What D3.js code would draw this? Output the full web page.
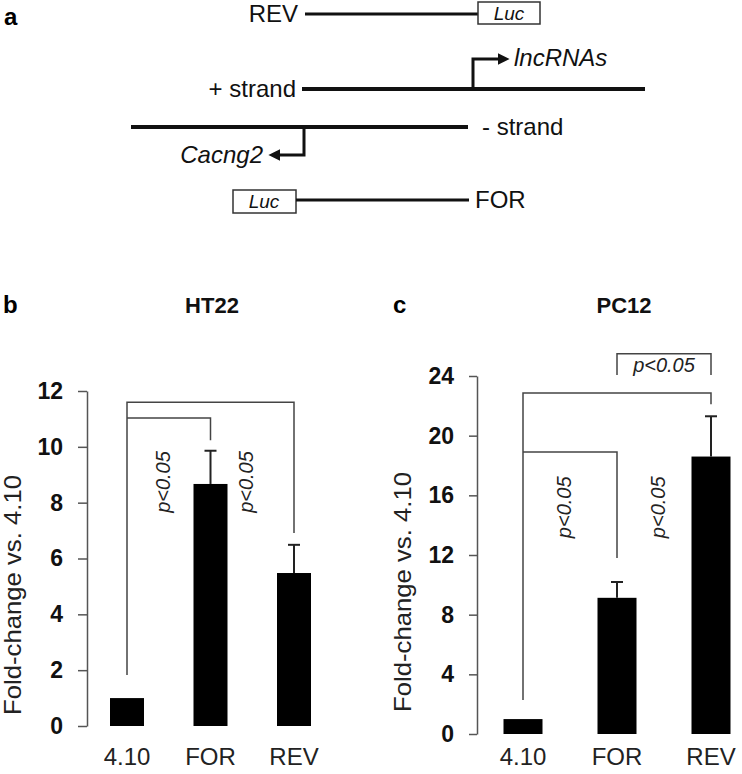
<!DOCTYPE html>
<html>
<head>
<meta charset="utf-8">
<script src="https://cdn.jsdelivr.net/npm/d3@7"></script>
<style>
  body { margin: 0; background: #fff; }
  svg { display: block; font-family: "Liberation Sans", Arial, sans-serif; }
</style>
</head>
<body>
<svg id="fig" width="742" height="774"></svg>
<script>
// Daten
const categories = ["4.10", "FOR", "REV"];
const ht22Values = [1.0, 8.67, 5.48];
const ht22Errors = [0, 1.19, 1.01];
const pc12Values = [1.0, 9.13, 18.6];
const pc12Errors = [0, 1.06, 2.7];
const ht22Ticks = [0, 2, 4, 6, 8, 10, 12];
const pc12Ticks = [0, 4, 8, 12, 16, 20, 24];
const pLabel = "p<0.05";

// Signifikanz-Klammern (Werte in Achseneinheiten)
const ht22Brackets = [
  { from: "4.10", to: "REV", top: 11.6, leftEnd: 1.83, rightEnd: 6.91 },
  { from: "4.10", to: "FOR", top: 11.03, leftEnd: null, rightEnd: 10.24 }
];
const ht22Labels = [{ between: ["4.10", "FOR"], y: 8.74 }, { between: ["FOR", "REV"], y: 8.74 }];

const pc12Brackets = [
  { from: "4.10", to: "REV", top: 22.86, leftEnd: 2.28, rightEnd: 22.1 },
  { from: "4.10", to: "FOR", top: 18.9, leftEnd: null, rightEnd: 11.8 },
  { from: "FOR", to: "REV", top: 25.5, leftEnd: 24.06, rightEnd: 24.06 }
];
const pc12Labels = [{ between: ["4.10", "FOR"], y: 15.2 }, { between: ["FOR", "REV"], y: 15.2 }];
const pc12TopLabel = { between: ["FOR", "REV"], y: 24.25 };

const svg = d3.select("#fig");

// Panel a: Schema
function drawSchematic() {
  const g = svg.append("g");
  const ink = "#111";

  g.append("text").attr("x", 4).attr("y", 25)
    .attr("font-size", 24).attr("font-weight", "bold").text("a");

  // Pfeilspitze
  const defs = svg.append("defs");
  defs.append("marker").attr("id", "head")
    .attr("viewBox", "0 0 10 10").attr("refX", 2).attr("refY", 5)
    .attr("markerWidth", 4).attr("markerHeight", 4)
    .attr("markerUnits", "strokeWidth").attr("orient", "auto")
    .append("path").attr("d", "M0,0 L10,5 L0,10 z").attr("fill", ink);

  // REV Konstrukt
  g.append("text").attr("x", 298).attr("y", 22).attr("font-size", 24)
    .attr("text-anchor", "end").attr("fill", ink).text("REV");
  g.append("line").attr("x1", 305).attr("x2", 478).attr("y1", 14).attr("y2", 14)
    .attr("stroke", ink).attr("stroke-width", 3);
  g.append("rect").attr("x", 478).attr("y", 2).attr("width", 62).attr("height", 22)
    .attr("fill", "#fff").attr("stroke", "#333").attr("stroke-width", 1.5);
  g.append("text").attr("x", 509).attr("y", 20).attr("font-size", 19)
    .attr("font-style", "italic").attr("text-anchor", "middle").attr("fill", ink).text("Luc");

  // + strand
  g.append("text").attr("x", 296).attr("y", 97).attr("font-size", 24)
    .attr("text-anchor", "end").attr("fill", ink).text("+ strand");
  g.append("line").attr("x1", 302).attr("x2", 645).attr("y1", 89).attr("y2", 89)
    .attr("stroke", ink).attr("stroke-width", 4);
  g.append("path").attr("d", "M473,89 V59 H500")
    .attr("fill", "none").attr("stroke", ink).attr("stroke-width", 3)
    .attr("marker-end", "url(#head)");
  g.append("text").attr("x", 514).attr("y", 66).attr("font-size", 24)
    .attr("font-style", "italic").attr("fill", ink).text("lncRNAs");

  // - strand
  g.append("line").attr("x1", 131).attr("x2", 468).attr("y1", 127).attr("y2", 127)
    .attr("stroke", ink).attr("stroke-width", 4);
  g.append("text").attr("x", 482).attr("y", 135).attr("font-size", 24)
    .attr("fill", ink).text("- strand");
  g.append("path").attr("d", "M304,127 V155 H278")
    .attr("fill", "none").attr("stroke", ink).attr("stroke-width", 3)
    .attr("marker-end", "url(#head)");
  g.append("text").attr("x", 263).attr("y", 163).attr("font-size", 24)
    .attr("font-style", "italic").attr("text-anchor", "end").attr("fill", ink).text("Cacng2");

  // FOR Konstrukt
  g.append("rect").attr("x", 233).attr("y", 190).attr("width", 63).attr("height", 23)
    .attr("fill", "#fff").attr("stroke", "#333").attr("stroke-width", 1.5);
  g.append("text").attr("x", 264).attr("y", 208).attr("font-size", 19)
    .attr("font-style", "italic").attr("text-anchor", "middle").attr("fill", ink).text("Luc");
  g.append("line").attr("x1", 296).attr("x2", 469).attr("y1", 200).attr("y2", 200)
    .attr("stroke", ink).attr("stroke-width", 3);
  g.append("text").attr("x", 475).attr("y", 208).attr("font-size", 24)
    .attr("fill", ink).text("FOR");
}

// Balkendiagramm-Panel
function drawPanel(cfg) {
  const g = svg.append("g");

  const y = d3.scaleLinear().domain(cfg.domain).range(cfg.yRange);
  const x = d3.scalePoint().domain(categories).range(cfg.xRange);

  // Panel-Buchstabe und Titel
  g.append("text").attr("x", cfg.letterX).attr("y", 313)
    .attr("font-size", 24).attr("font-weight", "bold").text(cfg.letter);
  g.append("text").attr("x", cfg.titleX).attr("y", 313)
    .attr("font-size", 22).attr("font-weight", "bold")
    .attr("text-anchor", "middle").attr("fill", "#111").text(cfg.title);

  // y-Achse
  const axis = g.append("g")
    .attr("transform", `translate(${cfg.axisX},0)`)
    .attr("font-size", 23)
    .call(d3.axisLeft(y).tickValues(cfg.ticks).tickSize(cfg.tickSize)
      .tickSizeOuter(0).tickPadding(15));
  axis.attr("font-family", null);
  axis.select(".domain").attr("stroke", "#555").attr("stroke-width", 1.5);
  axis.selectAll(".tick line").attr("stroke", "#555").attr("stroke-width", 1.5);
  axis.selectAll(".tick text")
    .style("font-size", "23px").style("font-weight", "bold").attr("fill", "#111");

  g.append("text")
    .attr("transform", `translate(${cfg.labelX},${cfg.labelY}) rotate(-90)`)
    .attr("text-anchor", "middle").attr("font-size", 24).attr("fill", "#222")
    .attr("textLength", 240).attr("lengthAdjust", "spacingAndGlyphs")
    .text("Fold-change vs. 4.10");

  const rows = categories.map((c, i) => ({ cat: c, v: cfg.values[i], e: cfg.errors[i] }));

  // Fehlerbalken
  rows.filter(d => d.e > 0).forEach(d => {
    g.append("line").attr("x1", x(d.cat)).attr("x2", x(d.cat))
      .attr("y1", y(d.v)).attr("y2", y(d.v + d.e))
      .attr("stroke", "#222").attr("stroke-width", 2);
    g.append("line").attr("x1", x(d.cat) - 6).attr("x2", x(d.cat) + 6)
      .attr("y1", y(d.v + d.e)).attr("y2", y(d.v + d.e))
      .attr("stroke", "#222").attr("stroke-width", 2);
  });

  // Balken
  g.selectAll("rect.bar").data(rows).enter().append("rect")
    .attr("class", "bar")
    .attr("x", d => x(d.cat) - cfg.barWidth / 2)
    .attr("width", cfg.barWidth)
    .attr("y", d => y(d.v))
    .attr("height", d => y(0) - y(d.v))
    .attr("fill", "#000");

  // Klammern
  cfg.brackets.forEach(b => {
    let p = "";
    p += b.leftEnd != null ? `M${x(b.from)},${y(b.leftEnd)} V${y(b.top)}` : `M${x(b.from)},${y(b.top)}`;
    p += ` H${x(b.to)}`;
    if (b.rightEnd != null) p += ` V${y(b.rightEnd)}`;
    g.append("path").attr("d", p).attr("fill", "none")
      .attr("stroke", "#444").attr("stroke-width", 1.5);
  });

  // p-Werte (gedreht)
  cfg.labels.forEach(l => {
    const cx = (x(l.between[0]) + x(l.between[1])) / 2 - 6;
    g.append("text")
      .attr("transform", `translate(${cx},${y(l.y)}) rotate(-90)`)
      .attr("text-anchor", "middle").attr("dy", "0.35em")
      .attr("font-size", 20).attr("font-style", "italic").attr("fill", "#222")
      .text(pLabel);
  });

  if (cfg.topLabel) {
    const l = cfg.topLabel;
    g.append("text")
      .attr("x", (x(l.between[0]) + x(l.between[1])) / 2)
      .attr("y", y(l.y))
      .attr("text-anchor", "middle").attr("font-size", 20)
      .attr("font-style", "italic").attr("fill", "#222").text(pLabel);
  }

  // Kategorien
  g.selectAll("text.cat").data(categories).enter().append("text")
    .attr("class", "cat")
    .attr("x", d => x(d)).attr("y", 765)
    .attr("text-anchor", "middle").attr("font-size", 24).attr("fill", "#222")
    .text(d => d);
}

drawSchematic();

drawPanel({
  letter: "b", letterX: 3, title: "HT22", titleX: 212,
  values: ht22Values, errors: ht22Errors, ticks: ht22Ticks,
  domain: [0, 12], yRange: [726, 391], xRange: [127, 294],
  barWidth: 34, axisX: 87, tickSize: 9, labelX: 21, labelY: 595,
  brackets: ht22Brackets, labels: ht22Labels
});

drawPanel({
  letter: "c", letterX: 393, title: "PC12", titleX: 624,
  values: pc12Values, errors: pc12Errors, ticks: pc12Ticks,
  domain: [0, 24], yRange: [734, 376], xRange: [523, 711],
  barWidth: 39, axisX: 477, tickSize: 8, labelX: 411, labelY: 592,
  brackets: pc12Brackets, labels: pc12Labels, topLabel: pc12TopLabel
});
</script>
</body>
</html>
